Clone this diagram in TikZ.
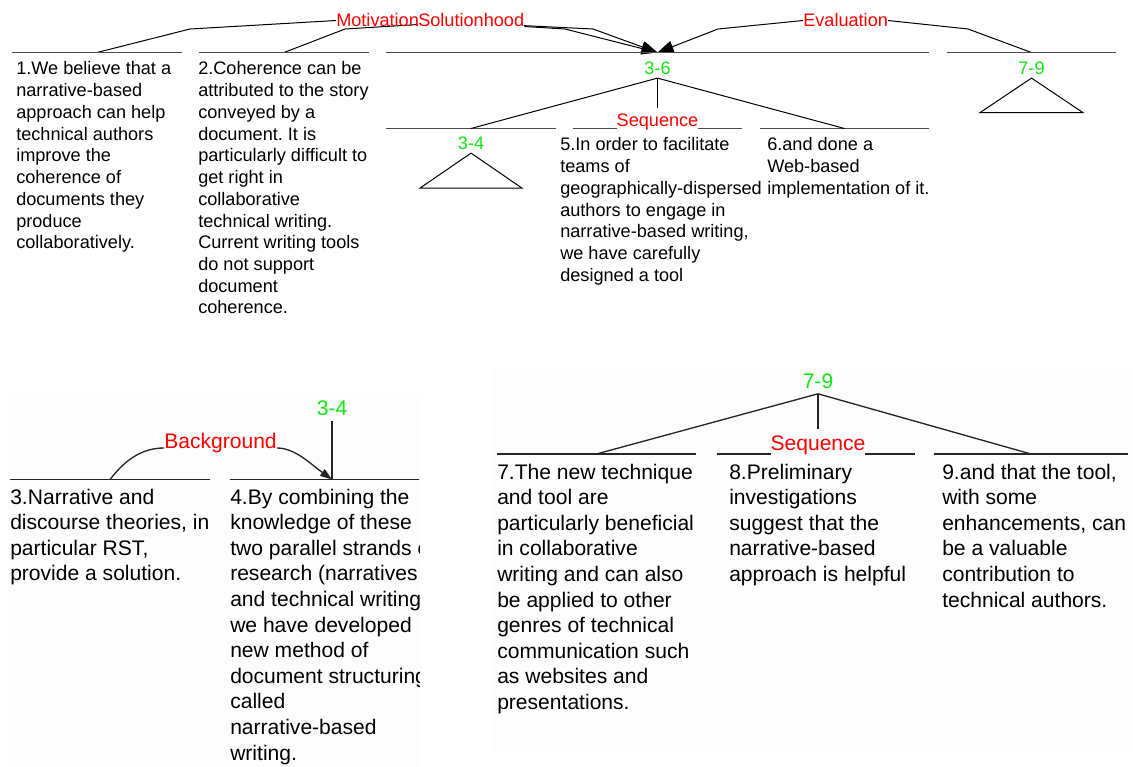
\documentclass[tikz,border=0pt]{standalone}
\usepackage{fontspec}
\setmainfont{Liberation Sans}
\usetikzlibrary{arrows.meta,calc,backgrounds}
\definecolor{rstred}{RGB}{255,0,0}
\definecolor{rstgreen}{RGB}{20,230,20}
\definecolor{rstpanel}{RGB}{253,253,253}
\newcommand{\topfont}{\fontsize{13.6pt}{16.3pt}\selectfont\frenchspacing}
\newcommand{\botfont}{\fontsize{15.8pt}{19.2pt}\selectfont\frenchspacing}

\begin{document}
\begin{tikzpicture}[x=0.75pt, y=-0.75pt, font=\topfont,
    segline/.style={draw=black!70, line width=0.8pt},
    bsegline/.style={draw=black!85, line width=1pt},
    seg/.style={minimum height=0pt, inner sep=0pt,
                append after command={(\tikzlastnode.west) edge[segline] (\tikzlastnode.east)}},
    bseg/.style={minimum height=0pt, inner sep=0pt,
                 append after command={(\tikzlastnode.west) edge[bsegline] (\tikzlastnode.east)}},
    edu/.style={anchor=north west, align=left, inner sep=0pt},
    span/.style={text=rstgreen, inner xsep=0pt, inner ysep=2pt, anchor=base},
    rellabel/.style={text=rstred, inner sep=0pt},
    relline/.style={draw, line width=0.75pt},
    relarrow/.style={relline, -{Triangle[length=12pt,width=9pt]}},
    brelline/.style={draw=black!85, line width=1pt},
    brelarrow/.style={brelline, -{Triangle[length=9pt,width=6pt]}},
    tri/.style={draw, line width=0.75pt},
    edge/.style={draw, line width=0.75pt},
    bedge/.style={draw=black!85, line width=1pt}
  ]
    \useasboundingbox (0,0) rectangle (1133,767);

    % Top tree: segments
    \node[seg, minimum width=127.5pt]  (s1)  at (97,52.5)    {};
    \node[seg, minimum width=127.5pt]  (s2)  at (284,52.5)   {};
    \node[seg, minimum width=407.25pt] (s36) at (657.5,52.5) {};
    \node[seg, minimum width=126.75pt] (s79) at (1031.5,52.5) {};
    \node[seg, minimum width=127.5pt]  (s34) at (471,128.5)  {};
    \node[seg, minimum width=126.75pt] (s5)  at (657.5,128.5) {};
    \node[seg, minimum width=126.75pt] (s6)  at (844.5,128.5) {};

    % Top tree: relations and spans
    \node[rellabel, anchor=base west] (mot) at (336,27) {Motivation};
    \node[rellabel, anchor=base west, fill=white, inner ysep=1pt] (sol) at (418,27) {Solutionhood};
    \node[rellabel, anchor=base west] (eva) at (803,27) {Evaluation};
    \node[span] (n36) at (657.5,75) {3-6};
    \node[span] (n79) at (1031.5,75) {7-9};
    \node[span] (n34) at (471,150) {3-4};
    \node[rellabel, anchor=base, fill=white, inner ysep=4pt] (seq) at (657.5,126.5) {Sequence};

    % Top tree: text
    \node[edu] (t1) at (16,61.5)
      {1.We believe that a\\narrative-based\\approach can help\\technical authors\\improve the\\coherence of\\documents they\\produce\\collaboratively.};
    \node[edu] (t2) at (198,61.5)
      {2.Coherence can be\\attributed to the story\\conveyed by a\\document. It is\\particularly difficult to\\get right in\\collaborative\\technical writing.\\Current writing tools\\do not support\\document\\coherence.};
    \node[edu] (t5) at (560,137.5)
      {5.In order to facilitate\\teams of\\geographically-dispersed\\authors to engage in\\narrative-based writing,\\we have carefully\\designed a tool};
    \node[edu] (t6) at (767,137.5)
      {6.and done a\\Web-based\\implementation of it.};

    % Top tree: collapsed spans
    \draw[tri] (n34.south) -- ++(-51,35) -- ++(102,0) -- cycle;
    \draw[tri] (n79.south) -- ++(-51.5,34.5) -- ++(103,0) -- cycle;

    % Top tree: multinuclear sequence
    \draw[edge] (n36.south) -- (s34.center);
    \draw[edge] (n36.south) -- (s6.center);
    \draw[edge] (n36.south) -- (seq.north);

    % Bottom left: 3-4
    \node[bseg, minimum width=150pt] (b3s) at (110,479.5) {};
    \begin{scope}
      \clip (0,380) rectangle (419,767);
      \node[bseg, minimum width=153pt] (b4s) at (332,479.5) {};
      \node[edu, font=\botfont] (t4) at (230,488.5)
        {4.By combining the\\knowledge of these\\two parallel strands of\\research (narratives\\and technical writing\\we have developed\\new method of\\document structuring\\called\\narrative-based\\writing.};
    \end{scope}
    \node[span, font=\botfont, inner ysep=4pt] (b34) at (332,415) {3-4};
    \node[rellabel, font=\botfont, anchor=base] (bg) at (220.5,448) {Background};
    \node[edu, font=\botfont] (t3) at (10,488.5)
      {3.Narrative and\\discourse theories, in\\particular RST,\\provide a solution.};

    \draw[bedge] (b34.south) -- (b4s.center);
    \draw[brelline] (b3s.center) .. controls ($(b3s.center)+(17,-22)$) and ($(bg.base west)+(-20,0)$) .. (bg.base west);
    \draw[brelarrow] (bg.base east) .. controls ($(bg.base east)+(18,0)$) and ($(b4s.center)+(-22,-16)$) .. (b4s.center);

    % Bottom right: 7-9
    \node[bseg, minimum width=149.25pt] (b7s) at (596.5,454) {};
    \node[bseg, minimum width=148.5pt]  (b8s) at (816,454)   {};
    \node[bseg, minimum width=145.5pt]  (b9s) at (1031,454)  {};
    \node[span, font=\botfont, inner ysep=4pt] (b79) at (818,388) {7-9};
    \node[rellabel, font=\botfont, anchor=base, fill=rstpanel, inner xsep=0pt, inner ysep=4.5pt] (bseq) at (818,450) {Sequence};
    \node[edu, font=\botfont] (t7) at (497,463.5)
      {7.The new technique\\and tool are\\particularly beneficial\\in collaborative\\writing and can also\\be applied to other\\genres of technical\\communication such\\as websites and\\presentations.};
    \node[edu, font=\botfont] (t8) at (729,463.5)
      {8.Preliminary\\investigations\\suggest that the\\narrative-based\\approach is helpful};
    \node[edu, font=\botfont] (t9) at (942,463.5)
      {9.and that the tool,\\with some\\enhancements, can\\be a valuable\\contribution to\\technical authors.};

    \draw[bedge] (b79.south) -- (b7s.center);
    \draw[bedge] (b79.south) -- (b9s.center);
    \draw[bedge] (b79.south) -- (bseq.north);

    % Panels and relation arcs behind the labels
    \begin{scope}[on background layer]
      \fill[rstpanel] (8,393) rectangle (422,767);
      \fill[rstpanel] (490,368) rectangle (1133,752);
      \draw[relline] (s1.center) -- (190,29) -- (mot.west);
      \draw[relarrow] (mot.east) -- (593,29) -- (s36.center);
      \draw[relline] (s2.center) -- (345,29) -- ([yshift=-3pt]sol.west);
      \draw[relarrow] ([yshift=-4.5pt]sol.east) -- (565,29) -- (s36.center);
      \draw[relarrow] (eva.west) -- (718,29) -- (s36.center);
      \draw[relline] (eva.east) -- (968,29) -- (s79.center);
    \end{scope}
  \end{tikzpicture}
\end{document}
